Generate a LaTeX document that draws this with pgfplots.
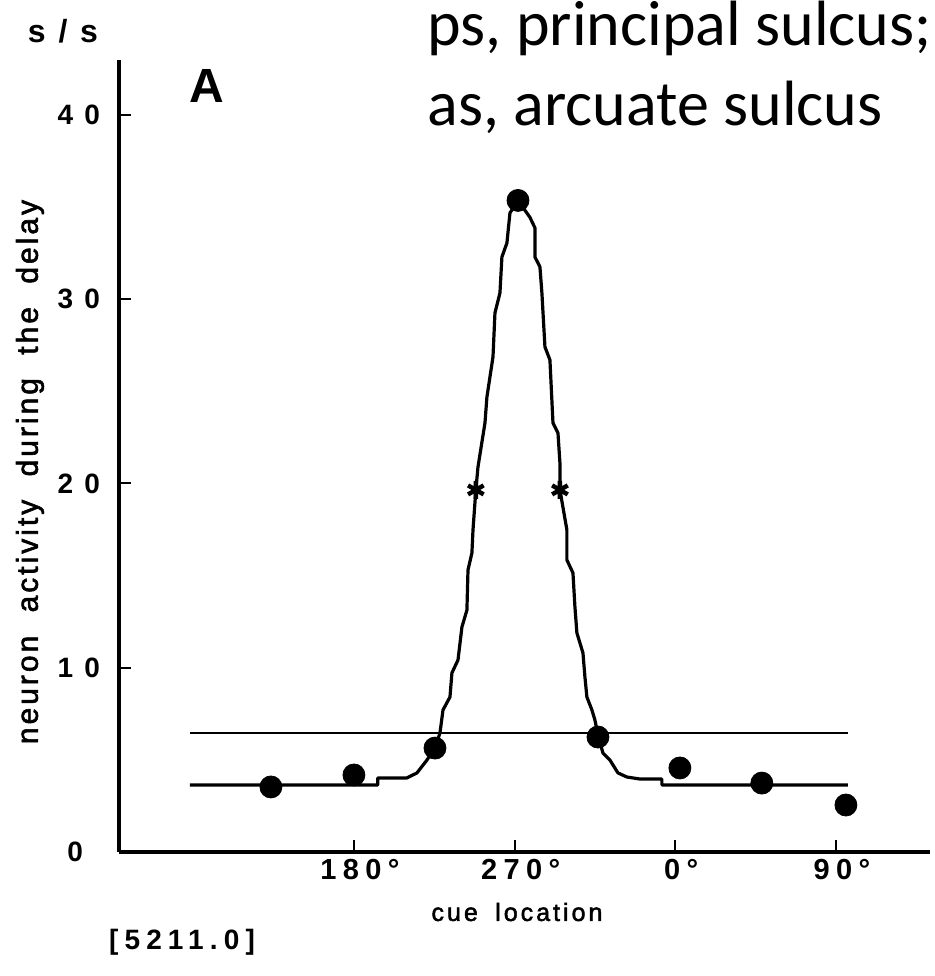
\documentclass[border=0pt]{standalone}
\usepackage{fontspec}
\setmainfont{Liberation Sans}
\newfontfamily\tickfont[LetterSpace=40]{Liberation Sans}
\newfontfamily\xtickfont[LetterSpace=22]{Liberation Sans}
\newfontfamily\labfont[LetterSpace=12,FakeBold=2]{Liberation Sans}
\newfontfamily\ylabfont[LetterSpace=10,FakeBold=2]{Liberation Sans}
\newfontfamily\gillfont{Carlito}
\usepackage{pgfplots}
\pgfplotsset{compat=1.18}
\begin{document}
\begin{tikzpicture}
\useasboundingbox (0,0) rectangle (467.5pt,488pt);
\begin{axis}[
 at={(59.5pt,62pt)}, anchor=south west,
 scale only axis, width=405.5pt, height=396pt,
 xmin=48.4, xmax=502.7, ymin=0, ymax=42.98,
 axis x line=bottom, axis y line=left,
 axis line style={-, line width=2pt},
 xtick={180,270,360,450}, xticklabels={180°,270°,0°,90°},
 ytick={0,10,20,30,40}, yticklabels={0\hspace*{8.5pt},10,20,30,40},
 tick align=inside, major tick length=6pt,
 tick style={line width=1pt, black},
 yticklabel style={font=\tickfont\bfseries\fontsize{14pt}{14pt}\selectfont, xshift=-6pt},
 xticklabel style={font=\xtickfont\bfseries\fontsize{14.5pt}{14.5pt}\selectfont, yshift=0pt, xshift=3pt},
 clip=false,
]
\addplot[black, line width=1pt] coordinates {(88.1,6.46) (456.7,6.46)};
\addplot[black, line width=1.6pt, line join=round] coordinates {
(88.1,3.64) (193.4,3.64) (193.4,4.02) (209.7,4.02) (215.3,4.29) (220.9,4.99)
(225.4,5.64) (228.2,6.46) (229.9,7.71) (233.8,8.41) (234.9,9.72) (238.3,10.42)
(240.5,12.21) (243.3,13.13) (243.9,15.31) (246.1,16.23) (246.7,17.48) (248.3,19.65)
(249.5,20.90) (253.4,23.28) (254.5,24.69) (257.9,26.87) (259.0,29.25) (261.8,30.34)
(262.9,32.29) (265.7,33.05) (267.4,34.68) (271.9,35.36)
(278.6,34.44) (281.4,33.87) (281.4,32.29) (284.2,31.75) (285.3,30.34) (287.0,27.41)
(289.8,26.70) (291.5,23.28) (294.3,22.74) (295.4,21.11) (295.4,19.65) (299.3,17.48)
(299.3,15.85) (302.7,15.14) (303.8,13.30) (304.9,11.89) (308.3,10.80) (309.4,9.50)
(310.5,8.41) (313.3,7.71) (315.0,7.16) (316.7,6.35) (319.5,5.37) (323.4,4.99)
(327.9,4.29) (332.9,4.07) (340.2,3.96) (352.5,3.96) (352.5,3.64) (456.7,3.64)
};
\addplot[only marks, mark=*, mark size=5.5pt, black] coordinates {
(133.5,3.53) (180,4.18) (225.4,5.64) (271.9,35.36) (316.7,6.24) (362.6,4.56) (408.5,3.74) (455.6,2.55)
};
\addplot[only marks, mark=asterisk, mark size=4.5pt, black, line width=2.2pt] coordinates {
(248.3,19.65) (295.4,19.65)
};
\end{axis}
\node[font=\tickfont\bfseries\fontsize{16pt}{16pt}\selectfont] at (31.5pt,472.5pt) {s/s};
\node[font=\bfseries\fontsize{24pt}{24pt}\selectfont] at (103.25pt,445.25pt) {A};
\node[anchor=base west, inner sep=0pt, font=\gillfont\fontsize{32pt}{32pt}\selectfont] at (213.5pt,465pt) {ps, principal sulcus;};
\node[anchor=base west, inner sep=0pt, font=\gillfont\fontsize{32pt}{32pt}\selectfont] at (213.5pt,425pt) {as, arcuate sulcus};
\node[font=\labfont\fontsize{12.5pt}{12.5pt}\selectfont] at (258.5pt,32pt) {cue\hspace{0.3em} location};
\node[font=\xtickfont\bfseries\fontsize{14pt}{14pt}\selectfont] at (91pt,17pt) {[5211.0]};
\node[rotate=90, font=\ylabfont\fontsize{15pt}{15pt}\selectfont] at (15pt,252pt) {neuron\hspace{0.4em} activity\hspace{0.4em} during\hspace{0.4em} the\hspace{0.4em} delay};
\end{tikzpicture}
\end{document}
